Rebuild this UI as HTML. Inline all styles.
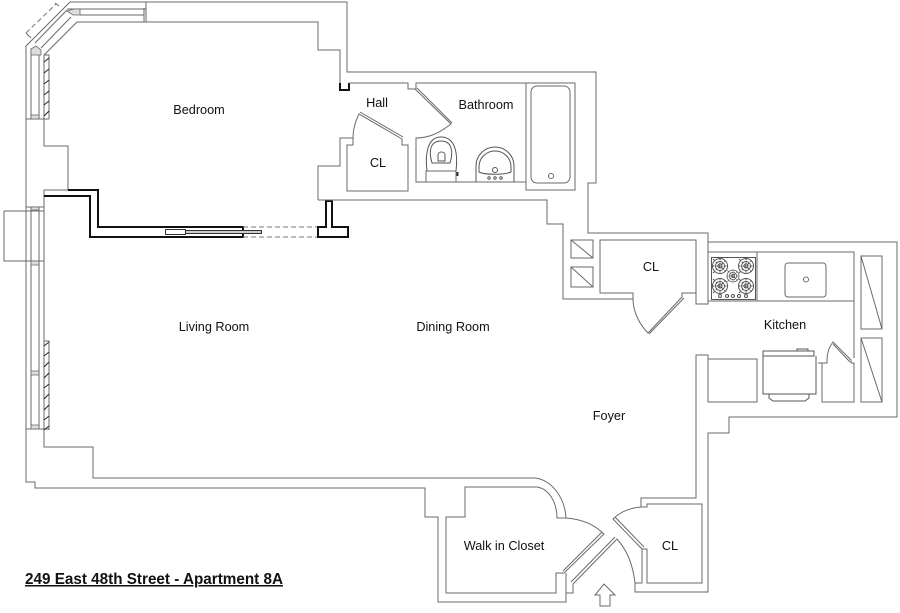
<!DOCTYPE html>
<html><head><meta charset="utf-8"><style>
html,body{margin:0;padding:0;background:#fff}
svg{display:block}
text{font-family:"Liberation Sans",sans-serif;font-size:12.7px;fill:#111;text-anchor:middle}
.w{fill:none;stroke:#6a6a6a;stroke-width:1}
.t{fill:none;stroke:#111;stroke-width:2}
.d{fill:none;stroke:#555;stroke-width:1}
.h{fill:none;stroke:#222;stroke-width:1}
.l{fill:#ddd;stroke:#666;stroke-width:.8}
</style></head><body>
<svg width="900" height="613" viewBox="0 0 900 613" xmlns="http://www.w3.org/2000/svg">
<defs>
<g id="b" class="d"><circle r="7.5" class="d"/><circle r="4.5" class="d"/><circle r="2" class="d"/><path class="d" d="M-7 -7 7 7M-7 7 7 -7M0 -7.5V7.5M-7.5 0H7.5" stroke-dasharray="2 2"/></g>
</defs>
<!-- outer wall -->
<path class="w" d="M26 119V46L70 2H347V72H596V183H588V233H708V242H897V417H729V433H708V592H635V583"/>
<path class="w" d="M26 119V482H35V488H425V517H438V602H566V593H573V584"/>
<!-- bedroom and living inner -->
<path class="w" d="M44 119V146H68V190H44V447H93V478H535C552 480 565 498 566 518"/>
<path class="w" d="M44 119V55L77 22H318V50H340V83"/>
<path class="w" d="M70 2 146 2V22M67 9H146M80 15H144V22M144 8V15"/>
<path class="w" d="M35 43 67 10M41 48 71 17"/>
<path class="w" d="M31 49V119M39 49V119M26 119H49M44 55H49V119"/>
<path class="l" d="M67 11 74 9 80 9V15H73Z"/>
<path class="l" d="M31 49 36 46 41 50V55H31Z"/>
<path class="l" d="M31 115H39V119H31Z"/>
<path class="h" d="M44 62 49 58M44 73 49 69M44 84 49 80M44 95 49 91M44 105 49 101M44 116 49 111"/>
<!-- left lower windows -->
<path class="w" d="M31 207V429M39 207V429M26 207H44M26 429H49M4 211H44M4 211V261H44M26 261H44M44 341H49V430"/>
<path class="l" d="M31 207H39V210H31ZM31 261H39V265H31ZM31 371H39V375H31ZM31 425H39V429H31Z"/>
<path class="h" d="M44 346 49 342M44 356 49 352M44 367 49 362M44 378 49 373M44 388 49 384M44 399 49 394M44 410 49 405M44 420 49 416M44 430 49 426"/>
<!-- thick partition -->
<path class="t" d="M68 190H98V227H243V237H90V196H44"/>
<rect x="165.5" y="229.5" width="20" height="5" fill="#fff" stroke="#333" stroke-width="1"/>
<rect x="185.5" y="230.5" width="76" height="3" fill="#ccc" stroke="#333" stroke-width="1"/>
<path d="M243 227H318M243 237H318" fill="none" stroke="#777" stroke-width="1" stroke-dasharray="5 3"/>
<path class="t" d="M326 201H332V227H348V237H318V227H326Z"/>
<path class="t" d="M340 83V90H349V83"/>
<!-- top-left dashed -->
<path d="M26 33 56 4" fill="none" stroke="#777" stroke-width="1" stroke-dasharray="5 3"/>
<path class="w" d="M26 33 31 38M55 3 59 6"/>
<!-- hall -->
<path class="w" d="M349 83H408V89H415L451 124C438 134 428 138 416 138V182H526V190H575V83H416V89M526 83V182"/>
<path class="w" d="M318 200V166H340V138H353C353 130 355 122 359 114L402 139V145H408V191H347V145H353V138"/>
<path class="w" d="M417 88 452 123M360 112 403 137"/>
<path class="w" d="M318 200H547V224H563V299H633V293H600V240H696V293H682V297L648 333C640 325 633 312 633 299"/>
<path class="w" d="M684 298 649 334"/>
<path class="w" d="M696 293V304H708V242"/>
<!-- bath fixtures -->
<rect x="531" y="86" width="39" height="97" rx="6" class="w"/>
<circle cx="551" cy="176" r="2.5" class="w"/>
<rect x="426" y="171" width="30" height="11" class="w"/>
<path class="d" d="M427 171C425 155 427 137 441 137C456 137 458 155 456 171" stroke-width="1.3"/>
<path class="d" d="M432 163C428 150 431 141 441 141C451 141 454 150 450 163Z" stroke-width="1.2"/>
<path class="d" d="M438 161V155C438 151 445 151 445 155V161Z"/>
<rect x="456.5" y="172" width="2" height="4" fill="#333"/>
<path class="d" d="M476 182V166C476 155 485 147 495 147C505 147 514 155 514 166V182"/>
<path class="d" d="M479 172V167C479 158 486 151 495 151C504 151 511 158 511 167V172C505 175 485 175 479 172Z"/>
<circle cx="495" cy="170" r="2.5" class="d" stroke-width="1.5"/>
<circle cx="489" cy="178" r="1.2" class="d"/><circle cx="495" cy="178" r="1.2" class="d"/><circle cx="501" cy="178" r="1.2" class="d"/>
<!-- linen squares -->
<path class="w" d="M571 240H593V258H571ZM571 240 593 258M571 267H593V287H571ZM571 267 593 287"/>
<!-- kitchen -->
<path class="w" d="M708 252H854V358M708 301H854M757 252V301"/>
<rect x="711.5" y="257.5" width="44" height="42" class="d"/>
<use href="#b" x="720" y="266"/><use href="#b" x="746" y="266"/><use href="#b" x="720" y="286"/><use href="#b" x="746" y="286"/>
<g transform="translate(733 276) scale(.8)"><use href="#b"/></g>
<circle cx="720" cy="296" r="1.5" class="d"/><circle cx="727" cy="296" r="1.5" class="d"/><circle cx="733" cy="296" r="1.5" class="d"/><circle cx="739" cy="296" r="1.5" class="d"/><circle cx="746" cy="296" r="1.5" class="d"/>
<rect x="785" y="263" width="41" height="34" rx="3" class="w"/>
<circle cx="806" cy="279.5" r="2.5" class="w"/>
<path class="w" d="M861 256H882V329H861ZM861 256 882 329M861 338H882V402H861ZM861 338 882 402"/>
<path class="w" d="M708 402V355H696V498H641V507C630 508 620 512 613 519L642 549V583H635C633 565 627 550 617 539L573 584"/>
<path class="w" d="M708 402H757V359H708"/>
<path class="d" d="M763 351H814V356H763ZM797 351V349H808V351M763 356V394H816V356M769 394V398L773 401H805L809 398V394"/>
<path class="w" d="M822 402V363H827V360C827 353 829 347 833 342L851 360V363H854V402H822ZM833 344 850 362M822 363H818"/>
<!-- CL & closet -->
<path class="w" d="M641 507H647V504H702V583H647V549H642M615 517 644 547"/>
<path class="w" d="M615 537 571 582"/>
<path class="w" d="M446 517H465V487H537C550 489 557 504 557 518H566C580 519 594 524 604 534L564 573H556V593H446ZM602 532 563 571M566 573V593"/>
<path class="w" d="M604 584 615 595H610V606H600V595H595Z"/>
<!-- labels -->
<text x="199" y="114">Bedroom</text>
<text x="377" y="107">Hall</text>
<text x="486" y="109">Bathroom</text>
<text x="378" y="167">CL</text>
<text x="214" y="331">Living Room</text>
<text x="453" y="331">Dining Room</text>
<text x="651" y="271">CL</text>
<text x="785" y="329">Kitchen</text>
<text x="609" y="420">Foyer</text>
<text x="504" y="550">Walk in Closet</text>
<text x="670" y="550">CL</text>
<text x="154" y="584" style="font-size:15.25px;font-weight:bold;text-decoration:underline">249 East 48th Street - Apartment 8A</text>
</svg>
</body></html>
